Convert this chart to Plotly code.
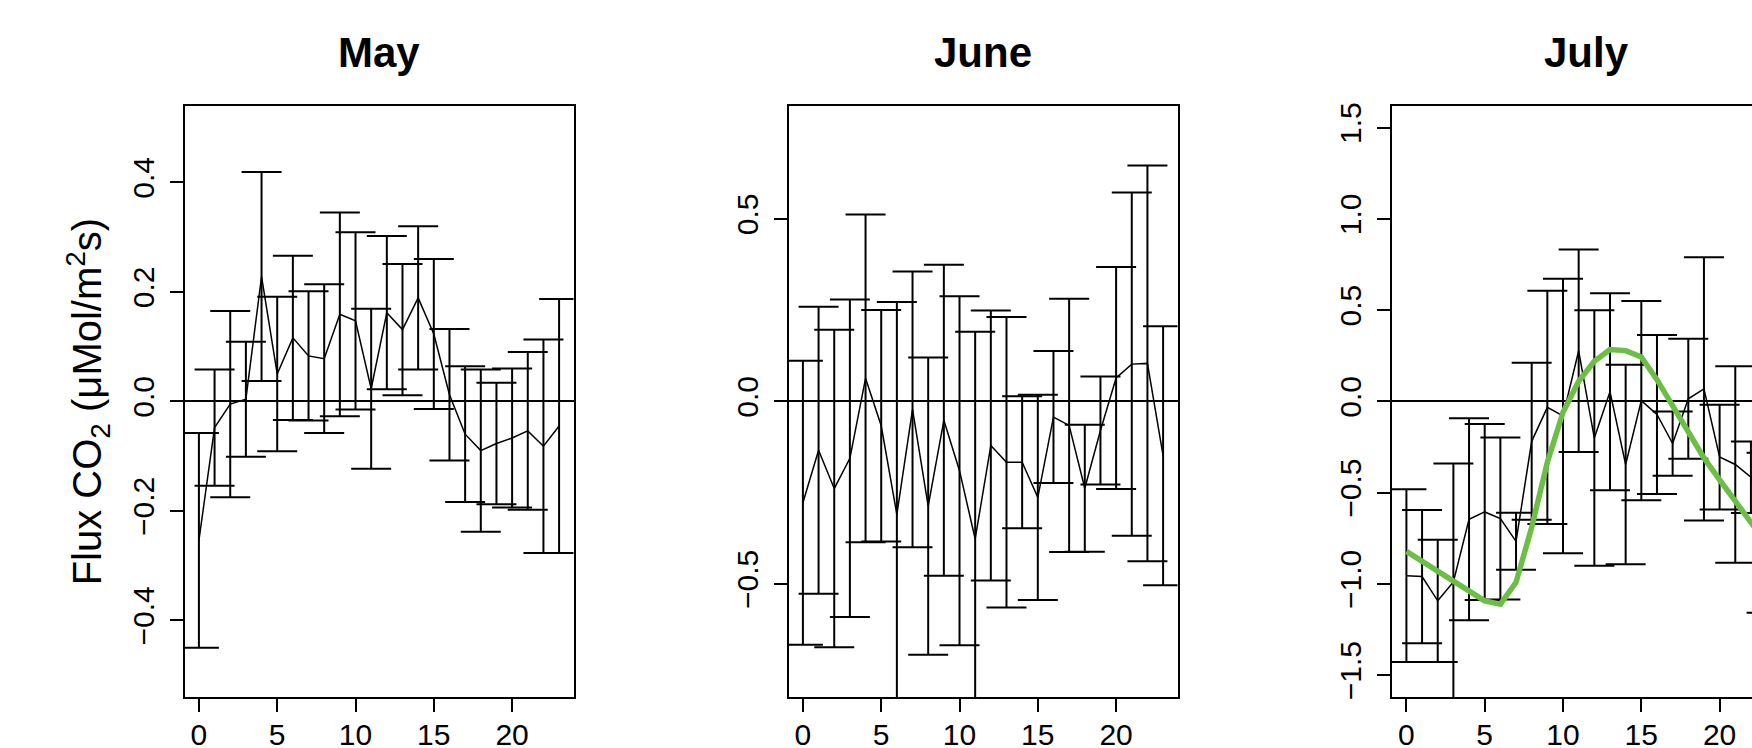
import plotly.graph_objects as go

# ---------------- data ----------------
hours = list(range(24))
months = ["May", "June", "July"]

may_mean = [-0.254, -0.048, -0.005, 0.004, 0.228, 0.050, 0.116, 0.083, 0.078, 0.159, 0.147, 0.023,
            0.162, 0.131, 0.189, 0.123, 0.012, -0.060, -0.090, -0.077, -0.067, -0.054, -0.082, -0.045]
may_sd = [0.196, 0.106, 0.170, 0.105, 0.191, 0.141, 0.150, 0.118, 0.136, 0.186, 0.162, 0.146,
          0.140, 0.120, 0.131, 0.137, 0.120, 0.124, 0.148, 0.111, 0.127, 0.144, 0.195, 0.232]

june_mean = [-0.278, -0.134, -0.239, -0.156, 0.063, -0.067, -0.310, -0.022, -0.287, -0.052, -0.190, -0.377,
             -0.121, -0.167, -0.167, -0.263, -0.043, -0.066, -0.238, -0.080, 0.064, 0.102, 0.104, -0.149]
june_sd = [0.389, 0.393, 0.435, 0.435, 0.449, 0.317, 0.582, 0.378, 0.407, 0.426, 0.478, 0.568,
           0.370, 0.398, 0.181, 0.281, 0.181, 0.347, 0.174, 0.148, 0.304, 0.470, 0.542, 0.355]

july_mean = [-0.955, -0.960, -1.093, -0.990, -0.646, -0.606, -0.642, -0.767, -0.219, -0.033, -0.080, 0.277,
             -0.201, 0.053, -0.346, 0.004, -0.072, -0.231, 0.014, 0.068, -0.305, -0.346, -0.416, -0.720]
july_sd = [0.473, 0.365, 0.335, 0.650, 0.554, 0.482, 0.444, 0.156, 0.430, 0.639, 0.752, 0.555,
           0.700, 0.540, 0.547, 0.546, 0.435, 0.176, 0.329, 0.721, 0.287, 0.538, 0.196, 0.439]
july_fit = [-0.822, -0.876, -0.930, -0.985, -1.038, -1.093, -1.111, -0.992, -0.690, -0.333, -0.060, 0.110,
            0.220, 0.284, 0.278, 0.243, 0.119, -0.027, -0.170, -0.310, -0.430, -0.545, -0.665, -0.780]

x_ticks = [0, 5, 10, 15, 20]
may_yticks = [-0.4, -0.2, 0.0, 0.2, 0.4]
june_yticks = [-0.5, 0.0, 0.5]
july_yticks = [-1.5, -1.0, -0.5, 0.0, 0.5, 1.0, 1.5]
ylims = [0.5, 0.75, 1.5]

# ---------------- layout geometry ----------------
W, H = 1752, 748
panel_left = [184.5, 788.5, 1392.0]
panel_w = 389.0
box_top, box_bottom = 105.7, 697.0
x_lo, x_hi = -0.92, 23.92
px_per_unit = panel_w / (x_hi - x_lo)

FONT = "Liberation Sans, Arial, Helvetica, sans-serif"
GREEN = "#6CBE45"
TICK_SIZE = 30

fig = go.Figure()

series = [(may_mean, may_sd), (june_mean, june_sd), (july_mean, july_sd)]
for i, (m, s) in enumerate(series):
    sfx = "" if i == 0 else str(i + 1)
    fig.add_trace(go.Scatter(
        x=hours, y=m, mode="lines",
        line=dict(color="black", width=1.5),
        error_y=dict(type="data", array=s, visible=True, color="black",
                     thickness=2, width=20),
        xaxis="x" + sfx, yaxis="y" + sfx, showlegend=False, hoverinfo="skip"))

fig.add_trace(go.Scatter(
    x=hours, y=july_fit, mode="lines",
    line=dict(color=GREEN, width=5.5),
    xaxis="x3", yaxis="y3", showlegend=False, hoverinfo="skip"))

ydom = [1 - box_bottom / H, 1 - box_top / H]
yticks_all = [may_yticks, june_yticks, july_yticks]

layout = dict(
    width=W, height=H,
    margin=dict(l=0, r=0, t=0, b=0, autoexpand=False),
    paper_bgcolor="white", plot_bgcolor="white",
    font=dict(family=FONT, color="black"),
    showlegend=False,
)

for i in range(3):
    sfx = "" if i == 0 else str(i + 1)
    left = panel_left[i]
    right = min(left + panel_w, W)
    xr_hi = x_lo + (right - left) / px_per_unit
    layout["xaxis" + sfx] = dict(
        domain=[left / W, right / W], range=[x_lo, xr_hi],
        anchor="y" + sfx, tickmode="array", tickvals=x_ticks,
        ticks="outside", ticklen=13, tickwidth=2, tickcolor="black",
        showline=True, linewidth=2, linecolor="black", mirror=True,
        showgrid=False, zeroline=False, automargin=False,
        tickfont=dict(family=FONT, size=TICK_SIZE, color="black"),
        ticklabelstandoff=-3,
    )
    ext = ylims[i] * 1.08
    layout["yaxis" + sfx] = dict(
        domain=ydom, range=[-ext, ext],
        anchor="x" + sfx, tickmode="array", tickvals=yticks_all[i],
        ticktext=["%.1f" % v if v >= 0 else "\u2212%.1f" % (-v) for v in yticks_all[i]],
        ticks="outside", ticklen=13, tickwidth=2, tickcolor="black",
        showline=True, linewidth=2, linecolor="black", mirror=(i < 2),
        showgrid=False, zeroline=True, zerolinecolor="black", zerolinewidth=1.6,
        automargin=False, tickangle=-90,
        tickfont=dict(family=FONT, size=TICK_SIZE, color="black"),
        ticklabelstandoff=4,
    )

annotations = []
for i, name in enumerate(months):
    cx = panel_left[i] + panel_w / 2
    annotations.append(dict(
        text=name, xref="paper", yref="paper", x=cx / W, y=1 - 52 / H,
        xanchor="center", yanchor="middle", showarrow=False,
        font=dict(family=FONT, size=42, color="black", weight="bold")))

annotations.append(dict(
    text="Flux CO<sub>2</sub> (\u03bcMol/m<sup>2</sup>s)", xref="paper", yref="paper",
    x=88 / W, y=(ydom[0] + ydom[1]) / 2, xanchor="center", yanchor="middle",
    textangle=-90, showarrow=False,
    font=dict(family=FONT, size=40, color="black")))

layout["annotations"] = annotations
fig.update_layout(**layout)

fig.write_html("out.html")
